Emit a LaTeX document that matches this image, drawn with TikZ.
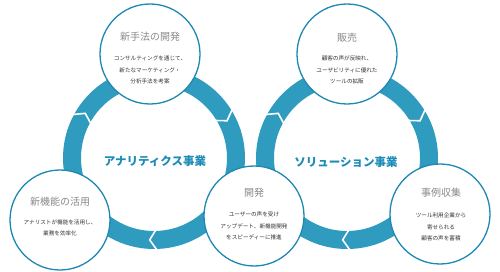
\documentclass[tikz,border=0pt]{standalone}
\usepackage{fontspec}
\setmainfont{Noto Sans CJK JP}
\usetikzlibrary{calc}
\definecolor{band}{HTML}{2E9BBF}
\definecolor{rim}{HTML}{1E88B3}
\definecolor{ttl}{HTML}{8A8A8A}
\definecolor{bodyc}{HTML}{333333}
\definecolor{lbl}{HTML}{1D8BB8}
\begin{document}
\begin{tikzpicture}[x=1pt,y=-1pt,
 bubble/.style={circle, draw=rim, line width=1.3pt, fill=white, minimum size=100pt, inner sep=0pt},
 ttlstyle/.style={text=ttl, font=\fontsize{10}{12}\selectfont, inner sep=0pt},
 bodystyle/.style={text=bodyc, font=\fontsize{5.6}{11.5}\selectfont, align=center, inner sep=0pt},
 ringlbl/.style={text=lbl, font=\fontsize{11.5}{13}\selectfont\bfseries, inner sep=0pt},
 chev/.style={white, line width=1.6pt, line join=miter}]
\useasboundingbox (0,0) rectangle (500,272);
\coordinate (lc) at (154,158);
\coordinate (rc) at (347,158);
% bands
\fill[band, even odd rule] (lc) circle[radius=91] (lc) circle[radius=73];
\fill[band, even odd rule] (rc) circle[radius=91] (rc) circle[radius=73];
% chevrons (clockwise flow)
\foreach \c in {lc,rc}{
  \foreach \a in {90,210,330}{
    \draw[chev] ($(\c)+(\a-3:69)$) -- ($(\c)+(\a+3:82)$) -- ($(\c)+(\a-3:95)$);
  }
}
% circles
\node[bubble] (tl) at (150,54) {};
\node[bubble] (tr) at (347,54) {};
\node[bubble] (bl) at (60,220) {};
\node[bubble] (bc) at (254,216) {};
\node[bubble] (br) at (440,214) {};
% texts
\node[ttlstyle] (tlt) at (150,37) {新手法の開発};
\node[bodystyle] (tlb) at (150,70) {コンサルティングを通じて、\\新たなマーケティング・\\分析手法を考案};
\node[ttlstyle] (trt) at (347,38) {販売};
\node[bodystyle] (trb) at (347,70) {顧客の声が反映れ、\\ユーザビリティに優れた\\ツールの拡販};
\node[ttlstyle] (blt) at (60,202) {新機能の活用};
\node[bodystyle] (blb) at (60,228) {アナリストが機能を活用し、\\業務を効率化};
\node[ttlstyle] (bct) at (254,193) {開発};
\node[bodystyle] (bcb) at (254,226) {ユーザーの声を受け\\アップデート、新機能開発\\をスピーディーに推進};
\node[ttlstyle] (brt) at (441,193) {事例収集};
\node[bodystyle] (brb) at (441,227) {ツール利用企業から\\寄せられる\\顧客の声を蓄積};
\node[ringlbl] (ll) at (155,161) {アナリティクス事業};
\node[ringlbl] (rl) at (346,162) {ソリューション事業};
\end{tikzpicture}
\end{document}
